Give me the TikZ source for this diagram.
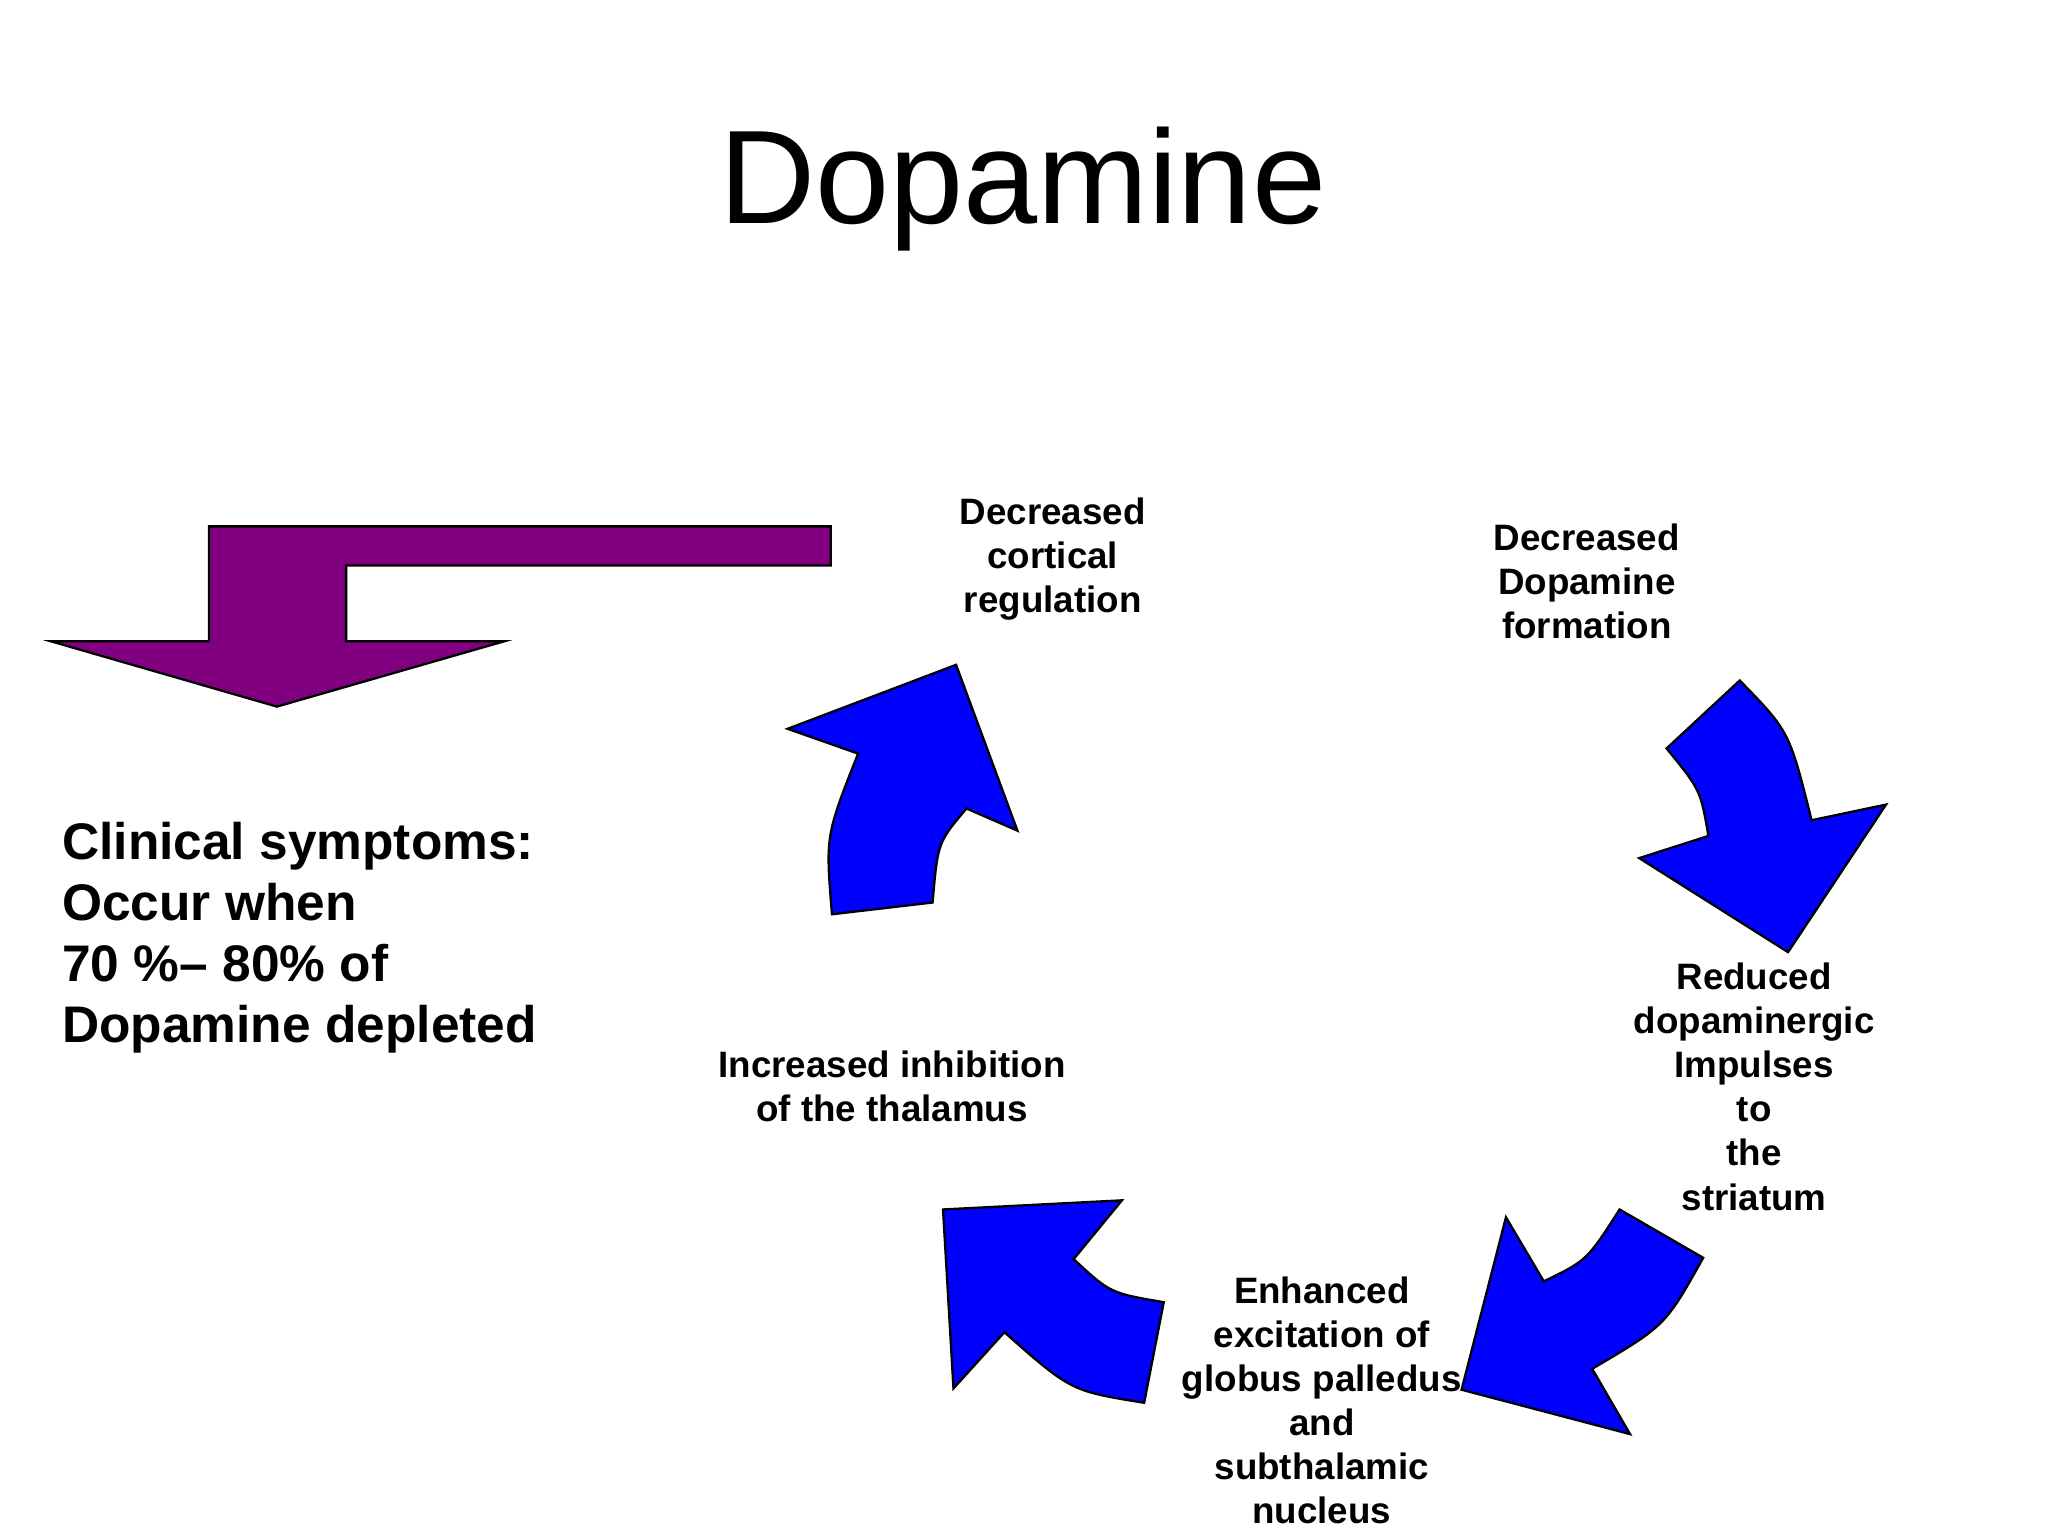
\documentclass[tikz,border=0pt]{standalone}
\usepackage{fontspec}
\setmainfont{Liberation Sans}
\begin{document}
\begin{tikzpicture}[x=0.01cm,y=-0.01cm,
  blk/.style={fill=blue,draw=black,line width=0.5pt},
  lbl/.style={font=\bfseries\fontsize{8}{9.6}\selectfont,align=center,inner sep=0pt}]
\useasboundingbox (0,0) rectangle (1568,1176);
\node[font=\fontsize{29}{34}\selectfont] (title) at (783,145) {Dopamine};
\draw[fill={rgb,255:red,128;green,0;blue,128},draw=black,line width=0.5pt] (636,403) -- (160,403) -- (160,491) -- (39,491) -- (212,541) -- (386,491) -- (265,491) -- (265,433) -- (636,433) -- cycle;
\draw[blk] (637,700) .. controls (632,640) .. (657,577) -- (603,558) -- (732,509) -- (779,636) -- (740,619) .. controls (718,645) .. (714,691) -- cycle;
\draw[blk] (1276,573) -- (1332,521) .. controls (1370,560) .. (1387,628) -- (1444,616) -- (1369,729) -- (1255,657) -- (1308,640) .. controls (1302,605) .. (1276,573) -- cycle;
\draw[blk] (1240,926) -- (1304,963) .. controls (1275,1015) .. (1219,1048) -- (1248,1098) -- (1119,1064) -- (1153,932) -- (1182,981) .. controls (1215,965) .. (1240,926) -- cycle;
\draw[blk] (891,997) -- (876,1074) .. controls (820,1065) .. (769,1020) -- (730,1063) -- (722,926) -- (859,919) -- (822,964) .. controls (850,990) .. (891,997) -- cycle;
\node[lbl] (a) at (806,428) {Decreased\\cortical\\ regulation};
\node[lbl] (b) at (1215,445) {Decreased\\Dopamine\\ formation};
\node[lbl] (c) at (1343,832) {Reduced\\dopaminergic\\Impulses\\to\\the\\striatum};
\node[lbl] (d) at (1012,1072) {Enhanced\\excitation of\\globus palledus\\and\\subthalamic\\nucleus};
\node[lbl] (e) at (683,832) {Increased inhibition\\of the thalamus};
\node[font=\bfseries\fontsize{11.2}{13.3}\selectfont,align=left,anchor=west,inner sep=0pt] (f) at (47,718) {Clinical symptoms:\\Occur when\\70 \%– 80\% of\\Dopamine depleted};
\end{tikzpicture}
\end{document}
